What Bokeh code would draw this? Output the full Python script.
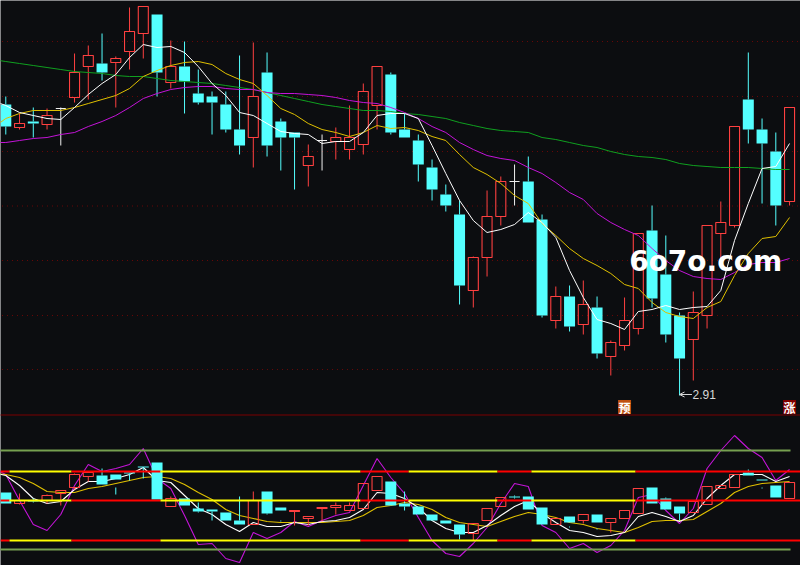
from bokeh.plotting import figure
from bokeh.models import Range1d, LinearAxis, Arrow, OpenHead
from bokeh.core.properties import value
from bokeh.embed import file_html
from bokeh.resources import INLINE

# ---- price panel, in chart levels ----
open_p  = [311,288,294,291,307,318,349,352,353,364,382,401,333,349,322,319,311,286,278,343,
           294,283,250,275,274,266,271,310,341,286,275,248,221,201,125,158,199,234,234,196,
           95,119,91,108,59,70,87,185,141,100,76,100,182,190,316,286,264,214]
high_p  = [319,302,308,307,308,362,370,382,359,408,409,401,375,374,346,324,324,360,373,363,
           297,283,271,281,288,310,332,349,343,302,281,256,231,215,159,225,239,251,259,201,
           129,130,135,119,75,118,182,210,180,103,124,190,214,289,363,297,283,308]
low_p   = [281,286,278,286,270,313,316,335,308,346,357,319,327,302,311,281,283,261,248,259,
           245,226,229,245,256,256,261,286,281,278,234,215,204,111,108,139,190,210,193,98,
           87,84,81,57,40,65,81,108,73,20,35,87,155,188,272,212,190,210]
close_p = [289,292,292,300,307,343,360,343,357,384,409,343,349,334,313,313,286,270,319,270,
           278,278,259,275,278,278,324,349,283,278,251,226,210,130,158,199,234,234,193,100,
           119,89,111,62,73,95,182,117,81,57,103,190,193,289,286,272,210,308]
ma_white   = [315,310,303,300,297,296,308,321,332,341,358,371,368,369,363,349,332,320,303,300,292,
              284,282,281,272,274,274,283,300,302,302,
              297,270,242,215,195,183,186,191,203,193,
              178,145,118,96,92,86,104,106,110,106,
              108,109,125,175,212,247,249,272]
ma_yellow  = [287,297,302,305,305,305,308,312,316,320,327,339,345,350,353,354,351,342,336,332,320,
              307,301,292,286,283,279,283,290,287,288,
              285,279,275,261,248,241,232,220,212,192,
              180,167,157,150,142,131,127,113,103,99,
              97,108,114,140,162,177,179,198]
ma_magenta = [273,273,275,277,278,281,283,289,294,300,308,317,322,326,328,329,329,327,326,326,323,
              322,322,321,320,318,315,313,312,308,303,
              297,289,283,273,266,260,257,255,248,242,
              233,223,216,202,193,186,180,167,155,145,
              139,137,136,143,151,153,153,157]
ma_green   = [356,354,352,350,348,346,344,343,342,340,339,339,337,335,334,333,332,330,328,326,323,
              320,317,314,311,309,307,305,305,304,302,
              301,299,297,293,290,287,285,284,283,278,
              276,273,270,268,264,261,259,258,256,252,
              250,249,248,248,248,247,246,246]
price_grid = [374,319,264,209.5,155,100,46]

# ---- indicator panel ----
open_k  = [73,62,65,65,72,78,89,90,91,93,99,103,59,67,57,56,53,45,41,74,
           58,54,47,57,58,55,57,75,84,62,59,51,45,41,32,45,59,69,69,58,
           41,49,45,51,43,47,52,78,67,59,53,61,77,78,93,86,80,67]
high_k  = [73,72,67,71,75,92,93,97,91,93,99,103,69,67,63,56,53,69,74,74,
           58,55,49,58,63,63,82,89,84,74,59,51,45,41,42,57,68,70,69,58,
           47,49,51,51,47,55,77,78,68,59,64,79,80,91,96,86,80,83]
low_k   = [62,61,63,62,60,76,84,81,86,85,87,66,59,60,53,45,45,41,41,51,
           55,40,40,44,51,55,57,75,60,55,51,45,42,26,25,45,59,67,56,41,
           41,43,42,43,33,47,52,62,56,45,53,61,77,78,90,85,68,67]
close_k = [62,65,64,70,75,91,93,81,86,92,98,66,67,60,54,54,45,41,65,52,
           55,55,49,58,60,60,82,89,60,59,51,45,42,31,42,57,68,68,56,41,
           47,43,51,43,47,55,77,62,56,52,64,79,80,91,90,85,68,83]
line_white   = [93,90,80,67,62,64,76,84,84,87,91,98,85,83,70,57,51,41,34,43,39,
                39,43,41,44,45,48,56,73,72,67,
                58,45,37,33,33,40,50,59,65,52,
                43,35,33,29,30,33,49,53,49,44,
                50,67,80,91,91,91,84,89]
line_yellow  = [92,91,88,82,74,73,73,77,79,82,85,88,89,87,81,73,66,56,50,47,44,
                43,43,43,43,44,45,50,58,60,63,
                61,56,48,43,41,39,44,49,53,51,
                48,43,41,37,35,33,38,44,45,45,
                46,54,62,73,79,82,83,84]
line_magenta = [98,91,65,41,35,51,80,101,94,97,101,117,87,77,50,21,22,7,3,33,27,
                33,44,39,45,50,53,80,107,88,72,
                48,25,12,9,22,38,62,82,79,40,
                33,17,22,13,20,35,68,71,55,42,
                57,97,115,130,117,108,85,96]
band_levels  = [94,65,25]
band_breaks  = [-0.39,0.27,4.78,11.25,25.8,29.3,35.76,38.23,45.8,57.8]
band_colours = ["#ff0000","#ffff00","#ff0000","#ffff00","#ff0000","#ffff00","#ff0000","#ffff00","#ff0000"]
limit_levels = [115,16]
stray_index  = [8,20,41,43,55]
stray_high   = [78,45,39,37,78]
stray_low    = [71,44,38,36,77]

BG = "#0c0d10"; CYAN = "#54ffff"; RED = "#ff4040"; WHITE = "#f0f0f0"
YELLOW = "#e0c000"; MAGENTA = "#c414d8"; GREEN = "#10a020"

n = len(open_p)
idx = list(range(n))
idx_lead = list(range(-1, n))

p = figure(width=800, height=565, output_backend="svg", toolbar_location=None,
           x_range=Range1d(-0.385, 57.796), y_range=Range1d(-150, 415),
           background_fill_color=BG, border_fill_color=BG, outline_line_color=None,
           min_border=0, styles={"position": "absolute", "left": "0", "top": "0"})
p.axis.visible = False
p.grid.visible = False
p.extra_y_ranges = {"ind": Range1d(0, 565)}
p.add_layout(LinearAxis(y_range_name="ind", visible=False), "left")


def split(o, c):
    up = [i for i in idx if c[i] > o[i]]
    down = [i for i in idx if c[i] < o[i]]
    flat = [i for i in idx if c[i] == o[i]]
    return up, down, flat


# price panel
for lvl in price_grid:
    p.line([-1, 58], [lvl, lvl], line_color="#6a0808", line_dash="1 4", line_width=1)
p.line([-1, 58], [0.5, 0.5], line_color="#7a0000", line_width=1)

up, down, flat = split(open_p, close_p)
for group, colour in ((up, RED), (down, CYAN), (flat, WHITE)):
    xs = [i for i in group]
    tops = [max(open_p[i], close_p[i]) for i in group]
    bots = [min(open_p[i], close_p[i]) for i in group]
    p.segment(xs, [high_p[i] for i in group], xs, tops, line_color=colour, line_width=1)
    p.segment(xs, bots, xs, [low_p[i] for i in group], line_color=colour, line_width=1)
    if colour == CYAN:
        p.vbar(xs, 0.8, tops, bots, fill_color=colour, line_color=None)
    else:
        p.vbar(xs, 0.73, tops, bots, fill_color=None, line_color=colour, line_width=1.1)

for series, colour in ((ma_green, GREEN), (ma_magenta, MAGENTA), (ma_yellow, YELLOW), (ma_white, "#ffffff")):
    p.line(idx_lead, series, line_color=colour, line_width=1)

# indicator panel
for series, colour in ((line_magenta, MAGENTA), (line_yellow, YELLOW), (line_white, "#ffffff")):
    p.line(idx_lead, series, line_color=colour, line_width=1.1, y_range_name="ind")

up, down, flat = split(open_k, close_k)
for group, colour in ((up, RED), (down, CYAN)):
    xs = [i for i in group]
    tops = [max(open_k[i], close_k[i]) for i in group]
    bots = [min(open_k[i], close_k[i]) for i in group]
    p.segment(xs, [high_k[i] for i in group], xs, tops, line_color=colour, line_width=1, y_range_name="ind")
    p.segment(xs, bots, xs, [low_k[i] for i in group], line_color=colour, line_width=1, y_range_name="ind")
    if colour == CYAN:
        p.vbar(xs, 0.8, tops, bots, fill_color=colour, line_color=None, y_range_name="ind")
    else:
        p.vbar(xs, 0.73, tops, bots, fill_color=None, line_color=colour, line_width=1.1, y_range_name="ind")
p.segment(stray_index, stray_high, stray_index, stray_low, line_color=CYAN, line_width=1, y_range_name="ind")

for lvl in limit_levels:
    p.line([-1, 57.07], [lvl, lvl], line_color="#76a050", line_width=2, y_range_name="ind")
for lvl in band_levels:
    for k, colour in enumerate(band_colours):
        p.line([band_breaks[k], band_breaks[k + 1]], [lvl, lvl], line_color=colour, line_width=2, y_range_name="ind")

# notes
p.add_layout(Arrow(end=OpenHead(size=5, line_color="#d8d8d8", line_width=1), x_start=49.9, y_start=21, x_end=49.0, y_end=21,
                   line_color="#d8d8d8", line_width=1))
p.text([49.95], [21], text=["2.91"], text_color="#d8d8d8", text_font=value("Liberation Sans"),
       text_font_size="12px", text_baseline="middle", text_align="left")
p.rect([45, 57], [8.5, 8.5], width=13, height=14, width_units="screen", height_units="screen",
       fill_color=["#c05010", "#800000"], line_color=None)
p.text([45, 57], [8, 8], text=["预", "涨"], text_color="#ffffff", text_font=value("Noto Sans CJK SC"),
       text_font_size="12px", text_font_style="bold", text_baseline="middle", text_align="center")
p.text([50.9], [154], text=["6o7o.com"], text_color="#ffffff", text_font=value("DejaVu Sans"),
       text_font_size="28px", text_font_style="bold", text_baseline="middle", text_align="center")

open("out.html", "w").write(file_html(p, INLINE))
